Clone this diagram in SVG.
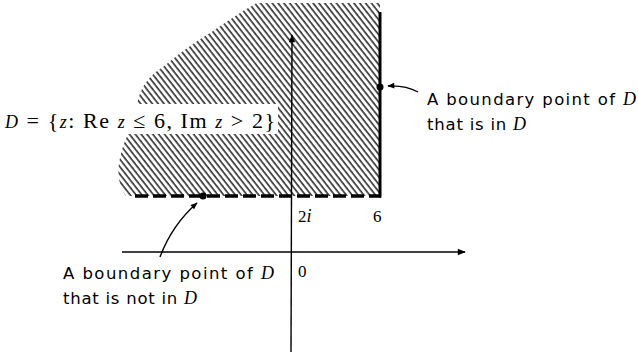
<svg xmlns="http://www.w3.org/2000/svg" width="638" height="355" viewBox="0 0 638 355">
<style>
.ax{stroke:#000;stroke-width:1.4;fill:none}
.sans{font-family:"DejaVu Sans","Liberation Sans",Arial,sans-serif;font-size:16.5px;fill:#000}
.serif{font-family:"Liberation Serif","Times New Roman",serif;fill:#000}
.it{font-family:"Liberation Serif","Times New Roman",serif;font-style:italic;font-size:18px}
.ptr{stroke:#000;stroke-width:1.4;fill:none}
</style>
<defs>
<pattern id="hatch" patternUnits="userSpaceOnUse" width="4.6" height="10" patternTransform="rotate(-38)">
<line x1="1" y1="0" x2="1" y2="10" stroke="#000" stroke-width="1.3"/>
</pattern>
<marker id="ah" viewBox="0 0 10 10" refX="9" refY="5" markerWidth="10" markerHeight="8" markerUnits="userSpaceOnUse" orient="auto">
<path d="M0,1 L10,5 L0,9 Z" fill="#000"/>
</marker>
<marker id="ahs" viewBox="0 0 10 10" refX="9" refY="5" markerWidth="9" markerHeight="7" markerUnits="userSpaceOnUse" orient="auto">
<path d="M0,1 L10,5 L0,9 Z" fill="#000"/>
</marker>
</defs>
<g id="region">
<path d="M257,3 L380,3 L380,196 L126,196 C118,185 117,170 120,158 C122,148 125,140 130,130 L138,100 C142,85 150,75 163,67 C175,57 190,45 210,33 C225,23 240,12 257,3 Z" fill="url(#hatch)"/>
<rect x="0" y="104" width="278" height="30" fill="#fff"/>
<line x1="380" y1="12" x2="380" y2="197.5" stroke="#000" stroke-width="3"/>
<line x1="135" y1="196" x2="381" y2="196" stroke="#000" stroke-width="3.5" stroke-dasharray="13 5"/>
</g>
<g id="axes">
<line class="ax" x1="291" y1="352" x2="292" y2="35" marker-end="url(#ah)"/>
<line class="ax" x1="122" y1="252" x2="465" y2="252" marker-end="url(#ah)"/>
</g>
<g id="points">
<circle cx="380" cy="87" r="3.5" fill="#000"/>
<circle cx="203" cy="196" r="3.5" fill="#000"/>
</g>
<g id="connectors">
<path class="ptr" d="M418,92 Q405,85 388,86" marker-end="url(#ahs)"/>
<path class="ptr" d="M160,257 Q172,225 197,203" marker-end="url(#ahs)"/>
</g>
<g id="label-D">
<text class="serif" x="5" y="128" font-size="22" textLength="270" lengthAdjust="spacing"><tspan class="it" font-size="22">D</tspan> = {<tspan class="it" font-size="22">z</tspan>: Re <tspan class="it" font-size="22">z</tspan> ≤ 6, Im <tspan class="it" font-size="22">z</tspan> &gt; 2}</text>
</g>
<g id="label-in">
<text class="sans" x="427" y="105" textLength="209" lengthAdjust="spacing">A boundary point of <tspan class="it">D</tspan></text>
<text class="sans" x="427" y="130" textLength="99" lengthAdjust="spacing">that is in <tspan class="it">D</tspan></text>
</g>
<g id="label-notin">
<text class="sans" x="63" y="279" textLength="211" lengthAdjust="spacing">A boundary point of <tspan class="it">D</tspan></text>
<text class="sans" x="63" y="304" textLength="134" lengthAdjust="spacing">that is not in <tspan class="it">D</tspan></text>
</g>
<g id="ticks">
<text class="serif" x="298" y="222" font-size="17">2<tspan class="it" font-size="17">i</tspan></text>
<text class="serif" x="373" y="222" font-size="17">6</text>
<text class="serif" x="298" y="277" font-size="17">0</text>
</g>
</svg>
